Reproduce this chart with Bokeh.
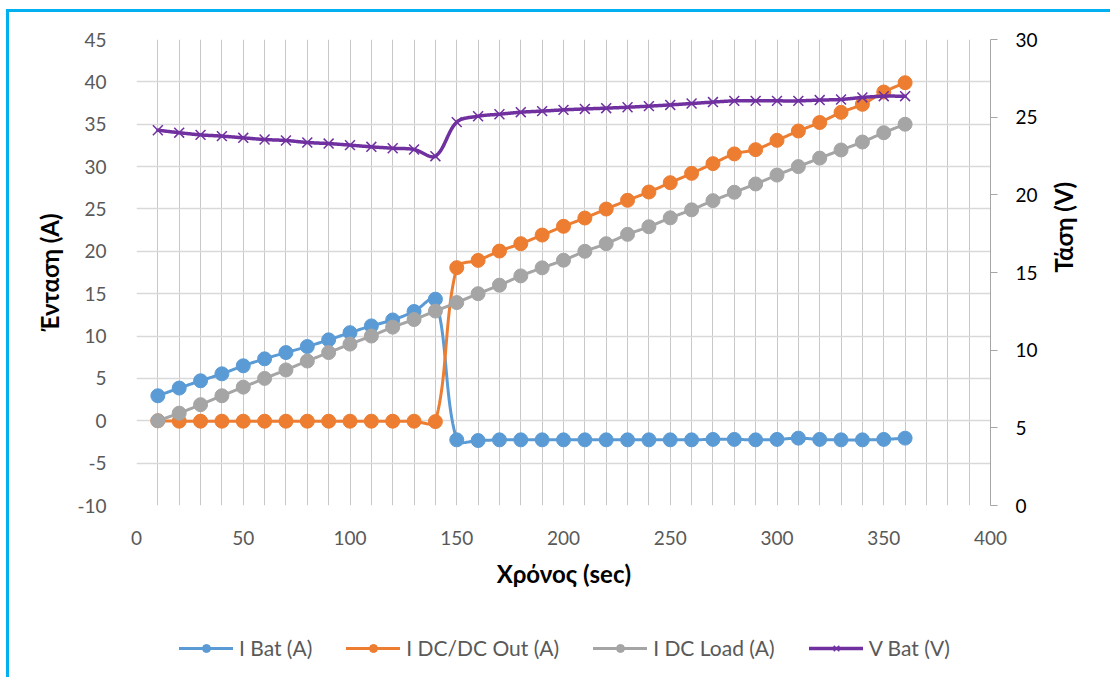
import math

from bokeh.embed import file_html
from bokeh.layouts import column
from bokeh.models import FixedTicker, Legend, LegendItem, LinearAxis, Range1d
from bokeh.plotting import figure
from bokeh.resources import INLINE

# ---- data ---------------------------------------------------------------
time_s = [10, 20, 30, 40, 50, 60, 70, 80, 90, 100, 110, 120,
          130, 140, 150, 160, 170, 180, 190, 200, 210, 220, 230, 240,
          250, 260, 270, 280, 290, 300, 310, 320, 330, 340, 350, 360]

i_bat = [2.95, 3.86, 4.72, 5.54, 6.49, 7.31, 8.05, 8.76, 9.55, 10.4, 11.2, 11.9,
         12.9, 14.35, -2.25, -2.33, -2.25, -2.25, -2.25, -2.25, -2.25, -2.25, -2.25, -2.25,
         -2.25, -2.25, -2.2, -2.2, -2.25, -2.2, -2.05, -2.2, -2.25, -2.25, -2.2, -2.05]

i_dcdc_out = [0.0, -0.05, -0.05, -0.05, -0.05, -0.05, -0.05, -0.05, -0.05, -0.05, -0.05, -0.05,
              -0.05, -0.1, 18.07, 18.93, 20.03, 20.9, 21.92, 22.95, 23.93, 24.99, 26.02, 27.0,
              28.1, 29.2, 30.35, 31.5, 32.0, 33.1, 34.2, 35.2, 36.4, 37.35, 38.8, 39.9]

i_dc_load = [0.0, 0.9, 1.9, 2.95, 3.97, 5.0, 6.0, 7.05, 8.05, 9.05, 10.0, 11.05,
             11.95, 12.95, 13.95, 15.0, 16.0, 17.1, 18.05, 18.95, 20.0, 20.9, 22.0, 22.9,
             23.95, 24.9, 25.98, 26.97, 27.95, 29.0, 30.0, 31.0, 31.96, 32.9, 34.0, 35.0]

v_bat = [24.16, 24.0, 23.86, 23.78, 23.67, 23.56, 23.5, 23.37, 23.3, 23.2, 23.09, 23.0,
         22.92, 22.49, 24.68, 25.06, 25.19, 25.32, 25.39, 25.47, 25.53, 25.58, 25.64, 25.71,
         25.79, 25.88, 25.97, 26.05, 26.05, 26.05, 26.05, 26.1, 26.14, 26.27, 26.35, 26.35]

x_ticks = [0, 50, 100, 150, 200, 250, 300, 350, 400]
current_ticks = [-10, -5, 0, 5, 10, 15, 20, 25, 30, 35, 40, 45]
voltage_ticks = [0, 5, 10, 15, 20, 25, 30]

labels = ["I Bat (A)", "I DC/DC Out (A)", "I DC Load (A)", "V Bat (V)"]

# ---- style --------------------------------------------------------------
BLUE, ORANGE, GREY, PURPLE = "#5B9BD5", "#ED7D31", "#A5A5A5", "#7030A0"
FONT = "Lato"
TICK_GREY = "#595959"
TICK_SIZE = "19px"
TITLE_SIZE = "24px"

# the chart area sits inside a cyan frame that starts a few pixels in
PAD_L, PAD_T = 6, 9
EDGE = 3
W = 1110 - PAD_L - EDGE
H_TOTAL = 677 - PAD_T - EDGE
H_LEGEND = 57
H_PLOT = H_TOTAL - H_LEGEND
FRAME_W, FRAME_H = 854, 466
LEFT = 136 - PAD_L - EDGE
TOP = 39 - PAD_T - EDGE
RIGHT = W - LEFT - FRAME_W
BOTTOM = H_PLOT - TOP - FRAME_H

X0, X1 = 0, 400
Y0, Y1 = -10, 45
V0, V1 = 0, 30


def smooth(xs, ys, sx, sy, steps=24):
    """Smoothed polyline through the points: one cubic Bezier per segment,
    tangents weighted by pixel chord length (spreadsheet-style smoothing)."""
    pts = [(x * sx, y * sy) for x, y in zip(xs, ys)]
    n = len(pts)
    out_x, out_y = [], []

    def d(a, b):
        return math.hypot(b[0] - a[0], b[1] - a[1])

    for i in range(n - 1):
        p0 = pts[i - 1] if i > 0 else pts[i]
        p1, p2 = pts[i], pts[i + 1]
        p3 = pts[i + 2] if i + 2 < n else pts[i + 1]
        d01, d12, d23 = d(p0, p1), d(p1, p2), d(p2, p3)
        k1 = d12 / (d01 + d12) if d01 + d12 > 0 else 0
        k2 = d12 / (d12 + d23) if d12 + d23 > 0 else 0
        c1 = (p1[0] + (p2[0] - p0[0]) * k1 / 3, p1[1] + (p2[1] - p0[1]) * k1 / 3)
        c2 = (p2[0] - (p3[0] - p1[0]) * k2 / 3, p2[1] - (p3[1] - p1[1]) * k2 / 3)
        for s in range(steps + (1 if i == n - 2 else 0)):
            t = s / steps
            a, b, c, e = (1 - t) ** 3, 3 * (1 - t) ** 2 * t, 3 * (1 - t) * t ** 2, t ** 3
            out_x.append((a * p1[0] + b * c1[0] + c * c2[0] + e * p2[0]) / sx)
            out_y.append((a * p1[1] + b * c1[1] + c * c2[1] + e * p2[1]) / sy)
    return out_x, out_y


# ---- main chart ----------------------------------------------------------
p = figure(frame_width=FRAME_W, frame_height=FRAME_H,
           x_range=Range1d(X0, X1), y_range=Range1d(Y0, Y1),
           output_backend="svg", toolbar_location=None,
           min_border_left=LEFT, min_border_right=RIGHT,
           min_border_top=TOP, min_border_bottom=BOTTOM)
p.extra_y_ranges = {"v": Range1d(V0, V1)}
p.outline_line_color = None
p.background_fill_color = "white"
p.border_fill_color = "white"

# grid
p.xgrid.ticker = FixedTicker(ticks=list(range(X0, X1 + 1, 10)))
p.xgrid.grid_line_color = "#C8C8C8"
p.xgrid.grid_line_width = 1
p.ygrid.ticker = FixedTicker(ticks=current_ticks)
p.ygrid.grid_line_color = "#D9D9D9"
p.ygrid.grid_line_width = 1.5

# x axis
xa = p.xaxis[0]
xa.ticker = FixedTicker(ticks=x_ticks)
xa.axis_line_color = None
xa.major_tick_line_color = None
xa.minor_tick_line_color = None
xa.major_label_text_font = FONT
xa.major_label_text_font_size = TICK_SIZE
xa.major_label_text_color = TICK_GREY
xa.major_label_standoff = 19
xa.axis_label = "Χρόνος (sec)"
xa.axis_label_text_font = FONT
xa.axis_label_text_font_style = "bold"
xa.axis_label_text_font_size = TITLE_SIZE
xa.axis_label_text_color = "black"
xa.axis_label_standoff = 11

# left axis (current)
ya = p.yaxis[0]
ya.ticker = FixedTicker(ticks=current_ticks)
ya.major_label_overrides = {t: f"{t:d}" for t in current_ticks}
ya.axis_line_color = None
ya.major_tick_line_color = None
ya.minor_tick_line_color = None
ya.major_label_text_font = FONT
ya.major_label_text_font_size = TICK_SIZE
ya.major_label_text_color = TICK_GREY
ya.major_label_standoff = 24
ya.axis_label = "Ένταση (A)"
ya.axis_label_text_font = FONT
ya.axis_label_text_font_style = "bold"
ya.axis_label_text_font_size = TITLE_SIZE
ya.axis_label_text_color = "black"
ya.axis_label_standoff = 10

# right axis (voltage)
ra = LinearAxis(y_range_name="v", ticker=FixedTicker(ticks=voltage_ticks))
ra.axis_line_color = "#A6A6A6"
ra.axis_line_width = 1
ra.major_tick_line_color = "#A6A6A6"
ra.major_tick_in = 0
ra.major_tick_out = 7
ra.minor_tick_line_color = None
ra.major_label_text_font = FONT
ra.major_label_text_font_size = TICK_SIZE
ra.major_label_text_color = "black"
ra.major_label_standoff = 18
ra.axis_label = "Τάση (V)"
ra.axis_label_text_font = FONT
ra.axis_label_text_font_style = "bold"
ra.axis_label_text_font_size = TITLE_SIZE
ra.axis_label_text_color = "black"
ra.axis_label_standoff = 23
ra.axis_label_orientation = math.pi / 2
p.add_layout(ra, "right")

# series
sx = FRAME_W / (X1 - X0)
sy_i = FRAME_H / (Y1 - Y0)
sy_v = FRAME_H / (V1 - V0)

series_styles = [
    (i_bat, BLUE, dict(marker="circle", size=14, fill_color=BLUE, line_color=BLUE), 3, None),
    (i_dcdc_out, ORANGE, dict(marker="circle", size=14, fill_color=ORANGE, line_color=ORANGE), 3, None),
    (i_dc_load, GREY, dict(marker="circle", size=14, fill_color=GREY, line_color=GREY), 3, None),
    (v_bat, PURPLE, dict(marker="x", size=14, line_color=PURPLE, line_width=1.5), 3.5, "v"),
]

for vals, color, mk_style, lw, yname in series_styles:
    extra = {"y_range_name": yname} if yname else {}
    cx, cy = smooth(time_s, vals, sx, sy_v if yname else sy_i)
    p.line(cx, cy, line_color=color, line_width=lw, line_join="round",
           line_cap="round", **extra)
    p.scatter(time_s, vals, **mk_style, **extra)

# ---- legend strip under the chart ----------------------------------------
# The strip's frame lines up with the chart's frame; its view window lies
# outside the series' extent, so only the legend swatches and labels show.
q = figure(width=W, height=H_LEGEND,
           x_range=Range1d(-2000, -1000), y_range=Range1d(-2000, -1000),
           output_backend="svg", toolbar_location=None,
           x_axis_location=None, y_axis_location=None, min_border=0)
q.grid.visible = False
q.outline_line_color = None
q.background_fill_color = "white"
q.border_fill_color = "white"

items = []
for (vals, color, mk_style, lw, yname), label in zip(series_styles, labels):
    ln = q.line(time_s, vals, line_color=color, line_width=lw, line_cap="round")
    mk = q.scatter(time_s, vals, **mk_style)
    items.append(LegendItem(label=label, renderers=[ln, mk]))

legend = Legend(items=items, orientation="horizontal", location=(43, 17),
                glyph_width=54, glyph_height=20, label_standoff=6, spacing=34,
                padding=0, margin=0, border_line_color=None,
                background_fill_alpha=0,
                label_text_font=FONT, label_text_font_size="21px",
                label_text_color=TICK_GREY)
q.add_layout(legend, "center")

page = column(p, q, spacing=0,
              styles={"margin-left": f"{PAD_L}px", "margin-top": f"{PAD_T}px",
                      "border-left": f"{EDGE}px solid #00B0F0",
                      "border-top": f"{EDGE}px solid #00B0F0"})

open("out.html", "w").write(file_html(page, INLINE))
